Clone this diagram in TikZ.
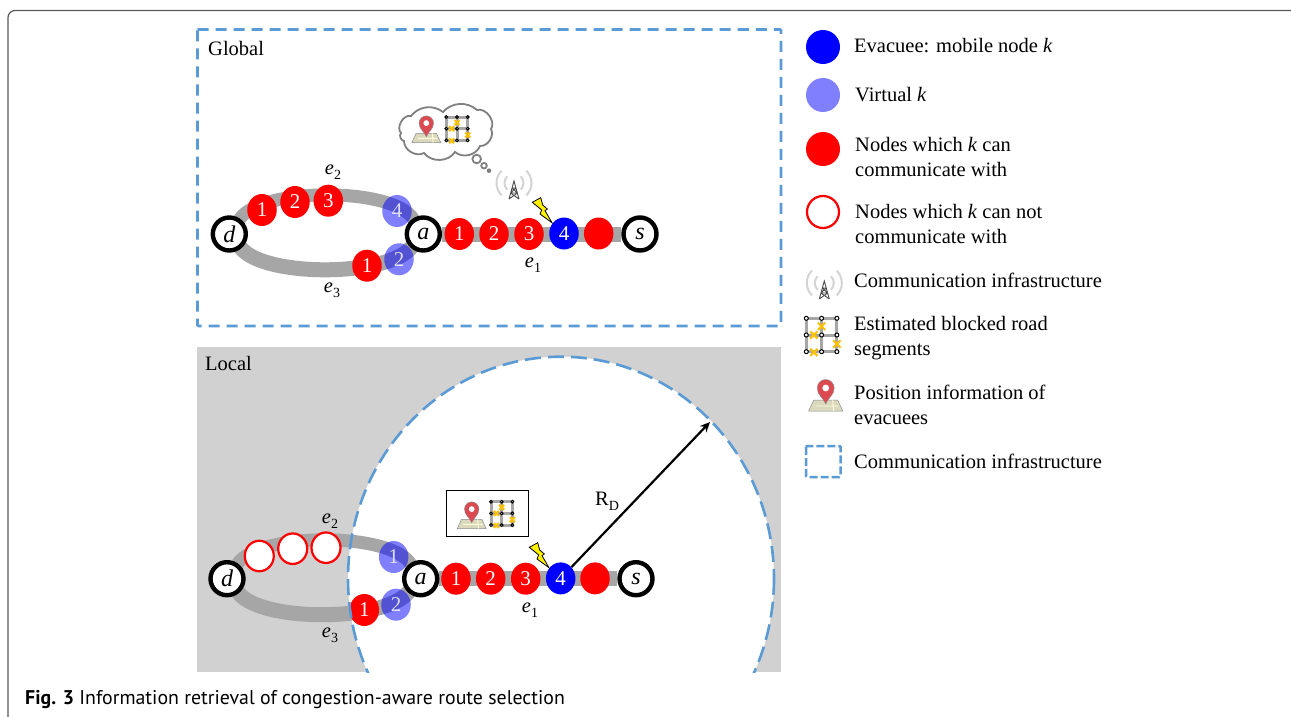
\documentclass[tikz,border=0pt]{standalone}
\usepackage{fontspec}
\setmainfont{Liberation Serif}
\newfontfamily\capfont{PT Sans}
\usetikzlibrary{shapes.geometric,arrows.meta}
\pgfdeclarelayer{back}
\pgfdeclarelayer{road}
\pgfsetlayers{back,road,main}
\definecolor{dashblue}{HTML}{5B9BD5}
\definecolor{roadgray}{HTML}{A6A6A6}
\definecolor{localgray}{HTML}{D1D1D1}
\definecolor{xorange}{HTML}{FFC000}
\definecolor{pinred}{HTML}{DB4A50}
\definecolor{mapbase}{HTML}{DAD9BE}
\newcommand{\fs}[1]{\fontsize{#1}{#1}\selectfont}
\newcommand{\labfont}{\fontsize{20.5}{25}\selectfont}
\newcommand{\esub}[1]{\textit{e}\raisebox{-0.25em}{\fs{14}#1}}
\tikzset{
  x=1pt,y=-1pt,
  every node/.style={font=\fs{20.5}},
  bus/.style={ellipse,inner sep=0pt,minimum width=29.5pt,minimum height=32pt,text=white,font=\fs{21}},
  rednode/.style={bus,fill=red},
  virtnode/.style={bus,fill=blue,fill opacity=.5,text opacity=.8},
  bluenode/.style={bus,fill=blue},
  ringnode/.style={bus,draw=red,line width=2.2pt,fill=white,minimum width=29pt,minimum height=30.5pt},
  junction/.style={circle,draw=black,line width=4.4pt,fill=white,inner sep=0pt,minimum size=33pt,font=\fs{24}\itshape},
  roadline/.style={draw=roadgray,line cap=round},
  dashline/.style={draw=dashblue,line width=2.8pt,dash pattern=on 11pt off 7pt},
  lab/.style={anchor=west,inner sep=0pt,align=left,font=\labfont},
  legdot/.style={circle,inner sep=0pt,minimum size=34pt},
  pics/pinmap/.style={code={
    \fill[mapbase,draw=black!45,line width=.5pt] (-12,-4) -- (12,-4) -- (17,7) -- (-17,7) -- cycle;
    \draw[white!85!yellow,line width=.9pt] (-10,2) -- (13,2) (7,-4) -- (8,7);
    \fill[pinred,draw=black!45,line width=.4pt] (0,0) .. controls (-3,-7) and (-8.5,-9) .. (-8.5,-16) arc[start angle=180,end angle=0,x radius=8.5,y radius=-8.5] .. controls (8.5,-9) and (3,-7) .. (0,0) -- cycle;
    \fill[white] (0,-16) circle[radius=3.4];
  }},
  pics/gridmap/.style={code={
    \draw[black!35,line width=3pt] (0,0) rectangle (30.6,33.4) (15.3,0) -- (15.3,33.4) (0,16.7) -- (30.6,16.7);
    \foreach \px/\py in {15.3/8,7.6/16.7,7.6/34,30.6/25.7}{
      \draw[xorange,line width=2pt] (\px-3.6,\py-3.6) -- (\px+3.6,\py+3.6) (\px-3.6,\py+3.6) -- (\px+3.6,\py-3.6);
    }
    \foreach \px in {0,15.3,30.6}\foreach \py in {0,16.7,33.4}{
      \draw[black,fill=white,line width=1pt] (\px,\py) circle[radius=2];
    }
  }},
  pics/towermast/.style={code={
    \foreach \r in {9.5,17.5}{
      \draw[black!17,line width=2pt] (-45:\r) arc[start angle=-45,end angle=45,radius=\r];
      \draw[black!17,line width=2pt] (135:\r) arc[start angle=135,end angle=225,radius=\r];
    }
    \draw[black!70,line width=.9pt] (-5,16) -- (0,-2) -- (5,16) (-3.4,10) -- (3.4,10) (-2,5) -- (2,5) (-3.4,10) -- (2,5) (3.4,10) -- (-2,5) (-5,16) -- (3.4,10) (5,16) -- (-3.4,10);
  }},
  pics/boltmark/.style={code={
    \fill[yellow,draw=black,line width=.8pt,line join=miter] (-19.7,-20.4) -- (-11.3,-25) -- (-9.3,-17.7) -- (-4.7,-13.7) -- (-7,-12) -- (0,0) -- (-12,-8.7) -- (-10.3,-12.7) -- cycle;
  }},
}
\begin{document}
\begin{tikzpicture}
\useasboundingbox (0,0) rectangle (1291,717);
\begin{pgfonlayer}{back}
\fill[white] (0,0) rectangle (1291,717);
\fill[localgray] (197,347) rectangle (781,672);
\begin{scope}
\clip (197,347) rectangle (781,672);
\fill[white] (561,578.7) ellipse[x radius=213,y radius=222];
\end{scope}
\end{pgfonlayer}
\draw[black!65,line width=1.2pt,rounded corners=7pt] (8,760) -- (8,10.5) -- (1340,10.5);
% global box
\draw[dashline,rounded corners=1pt] (197.5,29.5) rectangle (781,326);
\node[lab] (globaltxt) at (208,48) {Global};
\node[lab] (localtxt) at (205,363) {Local};

% GLOBAL
\node[junction] (gd) at (229.3,234) {d};
\node[junction] (ga) at (423.3,234) {a};
\node[junction] (gs) at (640,234) {s};
\node[rednode] (g1) at (459.3,234) {1};
\node[rednode] (g2) at (494,234) {2};
\node[rednode] (g3) at (529,234) {3};
\node[bluenode] (g4) at (564,233.5) {4};
\node[rednode] (g5) at (598.7,233.5) {};
\node[rednode] (gu1) at (262,210) {1};
\node[rednode] (gu2) at (295,202) {2};
\node[rednode] (gu3) at (328.3,200.7) {3};
\node[virtnode] (gu4) at (397,211) {4};
\node[rednode] (gl1) at (367,265.7) {1};
\node[virtnode] (gl2) at (399,259.3) {2};
\node (ge1) at (533,265) {\esub{1}};
\node (ge2) at (333,172.5) {\esub{2}};
\node (ge3) at (332,290.5) {\esub{3}};
\begin{pgfonlayer}{road}
\draw[roadline,line width=15pt,line cap=butt] (ga) -- (gs);
\draw[roadline,line width=13pt] (gd) .. controls (262,187) and (392,187) .. (ga);
\draw[roadline,line width=15pt] (gd) .. controls (265,277) and (385,277) .. (ga);
\end{pgfonlayer}
\pic at (514,183) {towermast};
\pic at (552,222.7) {boltmark};
% cloud
\coordinate (c1) at (401,133);
\coordinate (c2) at (411,116);
\coordinate (c3) at (443,112);
\coordinate (c4) at (477,110);
\coordinate (c5) at (491,129);
\coordinate (c6) at (480,146);
\coordinate (c7) at (455,152);
\coordinate (c8) at (424,153);
\coordinate (c9) at (404,141);
\draw[black!50,line width=1.8pt,fill=white] (c1) to[bend left=75] (c2) to[bend left=45] (c3) to[bend left=45] (c4) to[bend left=70] (c5) to[bend left=60] (c6) to[bend left=55] (c7) to[bend left=55] (c8) to[bend left=60] (c9) to[bend left=60] cycle;
\draw[black!50,line width=1.8pt] (476.7,159) circle[radius=4.3] (484,165.7) circle[radius=2.8];
\fill[black!50] (489,170.7) circle[radius=2.3];
\pic[scale=.85] at (426.3,136.7) {pinmap};
\pic[scale=.7] at (446.3,117) {gridmap};

% LOCAL
\node[junction] (ld) at (227,578.7) {d};
\node[junction] (la) at (420.7,578.7) {a};
\node[junction] (ls) at (636,578.7) {s};
\node[rednode] (l1) at (456,578.7) {1};
\node[rednode] (l2) at (490.7,578.7) {2};
\node[rednode] (l3) at (525.7,578.7) {3};
\node[bluenode] (l4) at (560.7,578.4) {4};
\node[rednode] (l5) at (595,578.4) {};
\node[ringnode] (lu1) at (259.3,556) {};
\node[ringnode] (lu2) at (292.7,548.7) {};
\node[ringnode] (lu3) at (326,547.7) {};
\node[virtnode] (lu4) at (393.7,557) {1};
\node[rednode] (ll1) at (364.3,610) {1};
\node[virtnode] (ll2) at (396,604.7) {2};
\node (le1) at (530,610) {\esub{1}};
\node (le2) at (330,521.5) {\esub{2}};
\node (le3) at (330,635) {\esub{3}};
\begin{pgfonlayer}{road}
\draw[roadline,line width=15pt,line cap=butt] (la) -- (ls);
\draw[roadline,line width=13pt] (ld) .. controls (260,532) and (389,532) .. (la);
\draw[roadline,line width=15pt] (ld) .. controls (262,622) and (382,622) .. (la);
\end{pgfonlayer}
\begin{scope}
\clip (197,347) rectangle (781,672);
\draw[dashline,dash pattern=on 16pt off 7pt,line width=2.6pt] (561,578.7) ellipse[x radius=213,y radius=222];
\end{scope}
\pic at (549,567.7) {boltmark};
\coordinate (rdtip) at (710,422);
\draw[black,line width=2.2pt,-{Stealth[length=10pt,width=9pt]}] (l4) -- (rdtip);
\node (rd) at (607,501) {R\raisebox{-0.25em}{\fs{14}D}};
\node[draw=black,line width=1.5pt,fill=white,minimum width=81.6pt,minimum height=46pt,inner sep=0pt] (infobox) at (487.5,513.7) {};
\pic[scale=.85] at (471.7,522.7) {pinmap};
\pic[scale=.7] at (491,501.7) {gridmap};

% LEGEND
\node[legdot,fill=blue] (k1) at (823,47) {};
\node[legdot,fill=blue!50] (k2) at (823,95) {};
\node[legdot,fill=red] (k3) at (823,149) {};
\node[legdot,draw=red,line width=2.2pt,fill=white,minimum size=32pt] (k4) at (823,212) {};
\pic at (824.3,283) {towermast};
\pic at (806.3,318.3) {gridmap};
\pic at (825.7,404) {pinmap};
\draw[dashline,line width=2.5pt,dash pattern=on 8pt off 3pt,rounded corners=1pt] (806,446) rectangle (840.5,477);
\node[lab] (t1) at (854,46) {Evacuee: mobile node \textit{k}};
\node[lab] (t2) at (855,95) {Virtual \textit{k}};
\node[lab] (t3) at (855,157) {Nodes which \textit{k} can\\communicate with};
\node[lab] (t4) at (855,224) {Nodes which \textit{k} can not\\communicate with};
\node[lab] (t5) at (854,280.5) {Communication infrastructure};
\node[lab] (t6) at (854,338.5) {Estimated blocked road\\segments};
\node[lab] (t7) at (854,405) {Position information of\\evacuees};
\node[lab] (t8) at (854,461) {Communication infrastructure};
% caption
\node[anchor=base west,inner sep=0pt,font=\capfont\fs{19.85}] (cap) at (25,704) {\textbf{Fig. 3} Information retrieval of congestion-aware route selection};
\end{tikzpicture}
\end{document}
